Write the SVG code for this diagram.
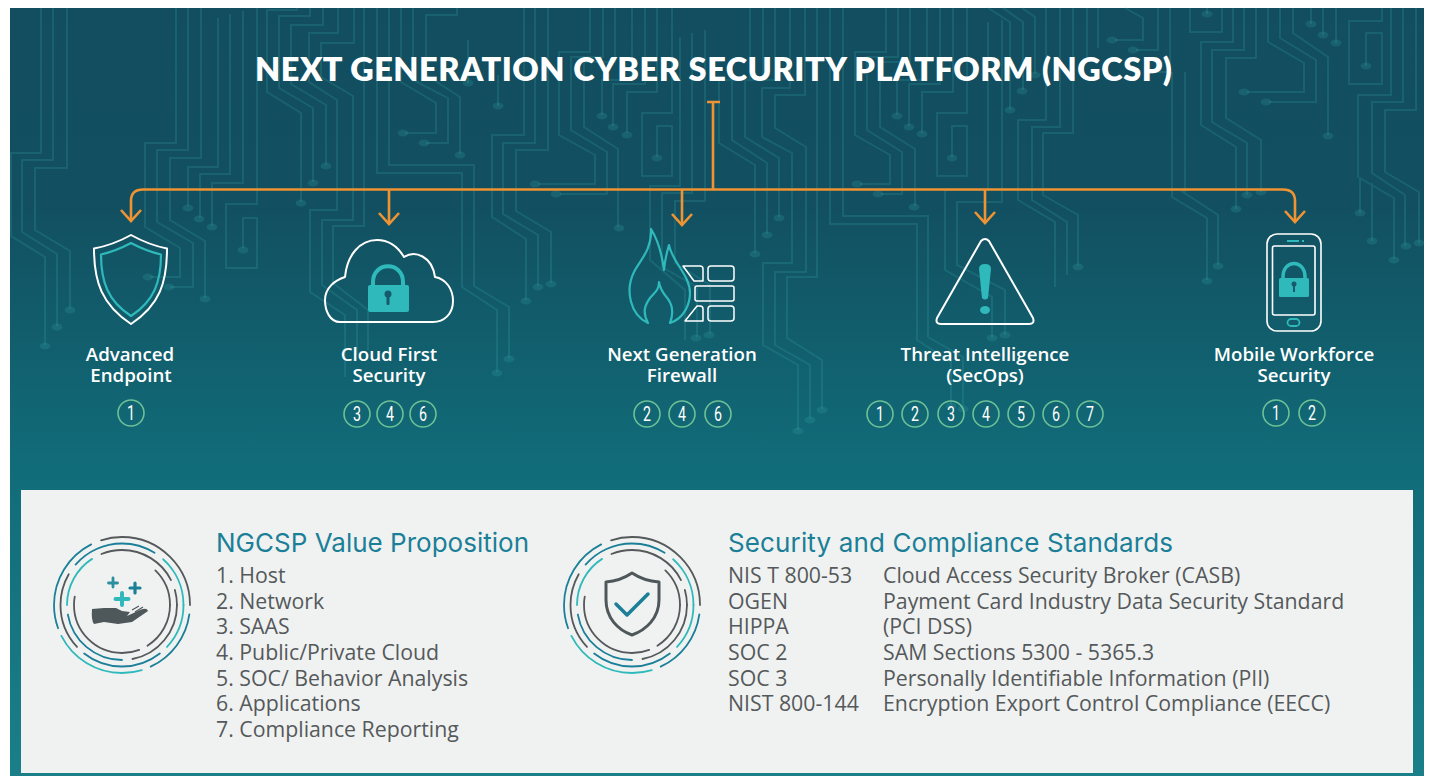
<svg xmlns="http://www.w3.org/2000/svg" xmlns:xlink="http://www.w3.org/1999/xlink" width="1429" height="776" viewBox="0 0 1429 776">
<style>
.tr{fill:none;stroke:#38a8a8;stroke-opacity:.22;stroke-width:2}
.dt{fill:#38a8a8;fill-opacity:.22}
.cn{fill:none;stroke:#f09333;stroke-width:2.6}
.ol{fill:none;stroke:#fff;stroke-width:2;stroke-linejoin:round}
.te{fill:none;stroke:#2fb9bb;stroke-width:2.2;stroke-linejoin:round}
.tf{fill:#2fb9bb}
.lb{font:600 18.7px "Open Sans",sans-serif;fill:#fff;text-anchor:middle}
.nb{fill:none;stroke:#6cc196;stroke-width:1.6}
.nt{font:19.5px "Roboto",sans-serif;fill:#fff;text-anchor:middle}
.hd{font:400 26px "Inter","Lato",sans-serif;fill:#1b7f98}
.bd{font:21.3px "Open Sans",sans-serif;fill:#55595b}
.g{fill:none;stroke:#55595b;stroke-width:1.8;stroke-linecap:round}
.b{fill:none;stroke:#1b7f98;stroke-width:1.8;stroke-linecap:round}
.t{fill:none;stroke:#2fb9bb;stroke-width:1.8;stroke-linecap:round}
</style>
<defs>
<linearGradient id="bg" x1="0" y1="0" x2="0" y2="1"><stop offset="0" stop-color="#124e5f"/><stop offset=".25" stop-color="#124f60"/><stop offset=".6" stop-color="#116c79"/><stop offset="1" stop-color="#1a7f88"/></linearGradient>
<g id="rings">
<circle class="g" r="68" pathLength="360" stroke-dasharray="108 360" stroke-dashoffset="-252"/>
<circle class="b" r="68" pathLength="360" stroke-dasharray="57 360" stroke-dashoffset="-8"/>
<circle class="t" r="68" pathLength="360" stroke-dasharray="80 360" stroke-dashoffset="-73"/>
<circle class="b" r="68" pathLength="360" stroke-dasharray="83 360" stroke-dashoffset="-160"/>
<circle class="b" r="61.5" pathLength="360" stroke-dasharray="81 360" stroke-dashoffset="-221"/>
<circle class="t" r="61.5" pathLength="360" stroke-dasharray="48 360" stroke-dashoffset="-312"/>
<circle class="t" r="61.5" pathLength="360" stroke-dasharray="43 360" stroke-dashoffset="0"/>
<circle class="b" r="61.5" pathLength="360" stroke-dasharray="76 360" stroke-dashoffset="-52"/>
<circle class="g" r="61.5" pathLength="360" stroke-dasharray="73 360" stroke-dashoffset="-137"/>
<circle class="g" r="55" pathLength="360" stroke-dasharray="85 360" stroke-dashoffset="-248"/>
<circle class="g" r="55" pathLength="360" stroke-dasharray="16 360" stroke-dashoffset="-344"/>
<circle class="g" r="55" pathLength="360" stroke-dasharray="79 360" stroke-dashoffset="0"/>
<circle class="b" r="55" pathLength="360" stroke-dasharray="80 360" stroke-dashoffset="-90"/>
<circle class="t" r="55" pathLength="360" stroke-dasharray="57 360" stroke-dashoffset="-180"/>
<circle class="g" r="48" pathLength="360" stroke-dasharray="46 360" stroke-dashoffset="-314"/>
<circle class="g" r="48" pathLength="360" stroke-dasharray="58 360" stroke-dashoffset="0"/>
<circle class="g" r="48" pathLength="360" stroke-dasharray="121 360" stroke-dashoffset="-69"/>
</g>
</defs>
<rect width="1429" height="776" fill="#fff"/>
<rect x="10" y="8" width="1414" height="768" fill="url(#bg)"/>
<g id="circuit-background">
<path class="tr" d="M41,8V153H11V236L45,257V345M53,8V160H22V232L57,254V326M67,8V168H35V230L70,251V309
M176,8V143H145V227L180,248V277H150M188,8V150H157V222L193,243V287H170M201,8V158H170V220L205,241V298
M218,18V167H188V206M230,14V174H200V218M243,11V183H212V226
M257,8V204H226V268H257V218H243V248
M297,8V10H267V92L301,113V202M310,8V16H279V88L313,108V182M323,8V25H291V84L326,105V165
M338,8V33H309V82L337,100V210H310V292L345,315V377M354,8V43H321V77L353,96V220H322V285L357,310V355M364,8V226H333V283L368,310V350
M377,8V173H462V287L497,310V372M389,8V165H474V286L509,307V358
M401,8V82L436,103V133H405M413,8V80L448,98V143H426M457,8V15H426V75L460,97V154
M548,8V150H516V211L551,232V283M535,8V143H503V214L538,235V286M524,8V135H492V217L526,239V300
M468,40V83M498,75V106
M590,8V52H559V135L595,155V184H538M603,8V57H571V130L607,152V194H560M615,8V62H584V127L618,149V227
M645,8V84H613V126M632,8V80H602V115M657,8V92H627V133
M672,8V113H642V176H672V126H657V157
M680,37V186H650V260L685,290V340M692,33V193H662V267L697,287V337M705,30V201H675V263L710,285V334
M750,8V80H719V143L755,165V253M763,8V80H732V140L767,163V234M775,8V80H745V137L779,158V217
M790,8V88H762V137L792,153V263H763V345L798,365V430M805,8V95H775V128L806,147V272H775V345L810,365V419M817,8V277H787V338L822,360V409
M830,8V224H917V340L951,362V405M843,8V216H928V337L963,357V408
M886,8V52H855V135L890,155V184H860M898,8V57H867V130L902,152V194H881M910,8V62H880V127L915,149V206
M940,8V84H909V126M927,8V80H897V115M953,8V92H922V133
M967,8V113H937V176H967V126H952V157
M988,8L1010,22V110M1003,8L1023,22V90M1022,8L1035,17V74
M988,22V190H945V270L992,297V338M1002,20V202H957V265L1005,290V335
M1046,8V120H1018V200L1055,222V287M1060,8V127H1032V200L1067,222V275M1073,8V133H1043V195L1078,215V266
M1087,8V60M1098,8V48M1125,8L1143,18V40H1115M1158,8V50H1136M1170,8V72H1150M1185,72V192H1183L1218,215V265M1172,72V197L1207,218V280
M1190,8V32H1222V8M1207,8V14
M1233,8V42H1201V125L1236,147V209M1244,8V50H1212V122L1247,143V195M1256,8V58H1226V118L1261,140V192
M1268,8V42L1304,63V92H1247M1280,8V38L1316,60V102H1269M1293,8V33L1328,57V135
M1311,8V24M1323,8V35M1336,8V43
M1382,8V21H1349V84H1382V33H1366V66
M1391,8V95H1358V177L1394,198V259M1403,8V102H1372V173L1405,195V246M1416,8V110H1385V172L1419,192V243
M1360,177V213M1372,183V241"/>
<g class="dt">
<ellipse cx="188" cy="208" rx="5.5" ry="3.5"/><ellipse cx="199" cy="219" rx="5.5" ry="3.5"/><ellipse cx="212" cy="227" rx="5.5" ry="3.5"/><ellipse cx="243" cy="250" rx="5.5" ry="3.5"/>
<ellipse cx="148" cy="277" rx="5.5" ry="3.5"/><ellipse cx="169" cy="287" rx="5.5" ry="3.5"/><ellipse cx="205" cy="299" rx="5.5" ry="3.5"/>
<ellipse cx="70" cy="310" rx="5.5" ry="3.5"/><ellipse cx="57" cy="327" rx="5.5" ry="3.5"/><ellipse cx="45" cy="346" rx="5.5" ry="3.5"/>
<ellipse cx="301" cy="203" rx="5.5" ry="3.5"/><ellipse cx="313" cy="183" rx="5.5" ry="3.5"/><ellipse cx="326" cy="166" rx="5.5" ry="3.5"/>
<ellipse cx="403" cy="133" rx="5.5" ry="3.5"/><ellipse cx="424" cy="143" rx="5.5" ry="3.5"/><ellipse cx="460" cy="155" rx="5.5" ry="3.5"/><ellipse cx="468" cy="83" rx="5.5" ry="3.5"/>
<ellipse cx="497" cy="373" rx="5.5" ry="3.5"/><ellipse cx="509" cy="359" rx="5.5" ry="3.5"/><ellipse cx="526" cy="301" rx="5.5" ry="3.5"/><ellipse cx="538" cy="287" rx="5.5" ry="3.5"/><ellipse cx="551" cy="284" rx="5.5" ry="3.5"/>
<ellipse cx="535" cy="184" rx="5.5" ry="3.5"/><ellipse cx="556" cy="194" rx="5.5" ry="3.5"/><ellipse cx="498" cy="106" rx="5.5" ry="3.5"/>
<ellipse cx="602" cy="116" rx="5.5" ry="3.5"/><ellipse cx="613" cy="127" rx="5.5" ry="3.5"/><ellipse cx="627" cy="135" rx="5.5" ry="3.5"/><ellipse cx="657" cy="158" rx="5.5" ry="3.5"/><ellipse cx="619" cy="228" rx="5.5" ry="3.5"/>
<ellipse cx="696" cy="338" rx="5.5" ry="3.5"/><ellipse cx="709" cy="335" rx="5.5" ry="3.5"/><ellipse cx="755" cy="254" rx="5.5" ry="3.5"/><ellipse cx="767" cy="235" rx="5.5" ry="3.5"/><ellipse cx="779" cy="218" rx="5.5" ry="3.5"/>
<ellipse cx="798" cy="431" rx="5.5" ry="3.5"/><ellipse cx="810" cy="420" rx="5.5" ry="3.5"/><ellipse cx="822" cy="410" rx="5.5" ry="3.5"/>
<ellipse cx="857" cy="184" rx="5.5" ry="3.5"/><ellipse cx="878" cy="194" rx="5.5" ry="3.5"/><ellipse cx="914" cy="207" rx="5.5" ry="3.5"/>
<ellipse cx="897" cy="116" rx="5.5" ry="3.5"/><ellipse cx="909" cy="127" rx="5.5" ry="3.5"/><ellipse cx="922" cy="134" rx="5.5" ry="3.5"/><ellipse cx="952" cy="158" rx="5.5" ry="3.5"/>
<ellipse cx="992" cy="338" rx="5.5" ry="3.5"/><ellipse cx="1005" cy="335" rx="5.5" ry="3.5"/><ellipse cx="951" cy="406" rx="5.5" ry="3.5"/><ellipse cx="963" cy="409" rx="5.5" ry="3.5"/>
<ellipse cx="1010" cy="110" rx="5.5" ry="3.5"/><ellipse cx="1022" cy="91" rx="5.5" ry="3.5"/><ellipse cx="1035" cy="75" rx="5.5" ry="3.5"/><ellipse cx="1112" cy="40" rx="5.5" ry="3.5"/><ellipse cx="1133" cy="50" rx="5.5" ry="3.5"/>
<ellipse cx="1078" cy="267" rx="5.5" ry="3.5"/><ellipse cx="1207" cy="281" rx="5.5" ry="3.5"/><ellipse cx="1218" cy="266" rx="5.5" ry="3.5"/><ellipse cx="1207" cy="14" rx="5.5" ry="3.5"/>
<ellipse cx="1236" cy="209" rx="5.5" ry="3.5"/><ellipse cx="1247" cy="195" rx="5.5" ry="3.5"/><ellipse cx="1261" cy="192" rx="5.5" ry="3.5"/>
<ellipse cx="1244" cy="92" rx="5.5" ry="3.5"/><ellipse cx="1266" cy="102" rx="5.5" ry="3.5"/><ellipse cx="1328" cy="136" rx="5.5" ry="3.5"/>
<ellipse cx="1311" cy="24" rx="5.5" ry="3.5"/><ellipse cx="1323" cy="35" rx="5.5" ry="3.5"/><ellipse cx="1336" cy="43" rx="5.5" ry="3.5"/><ellipse cx="1366" cy="66" rx="5.5" ry="3.5"/>
<ellipse cx="1360" cy="213" rx="5.5" ry="3.5"/><ellipse cx="1372" cy="241" rx="5.5" ry="3.5"/><ellipse cx="1394" cy="260" rx="5.5" ry="3.5"/><ellipse cx="1406" cy="246" rx="5.5" ry="3.5"/><ellipse cx="1419" cy="243" rx="5.5" ry="3.5"/>
</g>
</g>
<text id="title" x="255" y="81" font-family="Lato,sans-serif" font-weight="800" font-size="32.5" fill="#fff" textLength="917" lengthAdjust="spacing">NEXT GENERATION CYBER SECURITY PLATFORM (NGCSP)</text>
<g id="connectors">
<path class="cn" d="M707,102H720M713,102V189.500M131,221V201Q131,189.500 143,189.500H1283Q1295,189.500 1295,201V222M389,189.500V224M682,189.500V225M985,189.500V223"/>
<path class="cn" d="M121,210L131,221L141,210M379,213L389,224L399,213M672,214L682,225L692,214M975,212L985,223L995,212M1285,211L1295,222L1305,211"/>
</g>
<g id="node-endpoint">
<path class="ol" d="M131,235Q113,245 94,248.500C94,282 102,305 131,324C160,305 167,282 167,248.500Q149,245 131,235Z"/>
<path class="te" d="M131,243Q116,251 101,254.500C101,282 108,301 131,316C154,301 161,282 161,254.500Q146,251 131,243Z"/>
<text class="lb" x="130" y="361">Advanced</text><text class="lb" x="131" y="382">Endpoint</text>
<circle class="nb" cx="131" cy="413" r="13"/><text class="nt" x="131" y="420" textLength="8" lengthAdjust="spacingAndGlyphs">1</text>
</g>
<g id="node-cloud">
<path class="ol" d="M340,322C330,322 325,311 325,300C325,288 335,280 345,277C347,255 360,240 377,240C389,240 398,247 404,257C415,250 432,256 435,277C446,279 453,289 453,301C453,314 444,322 433,322Z"/>
<path fill="none" stroke="#2fb9bb" stroke-width="4" d="M373,286V282C373,261 403,261 403,282V286"/>
<rect class="tf" x="368" y="285" width="41" height="27" rx="2"/>
<circle cx="388" cy="294" r="3.500" fill="#165b6b"/><rect x="386.500" y="295" width="3" height="10" rx="1" fill="#165b6b"/>
<text class="lb" x="389" y="361">Cloud First</text><text class="lb" x="389" y="382">Security</text>
<circle class="nb" cx="357" cy="414" r="13"/><text class="nt" x="357" y="421" textLength="8" lengthAdjust="spacingAndGlyphs">3</text>
<circle class="nb" cx="390" cy="414" r="13"/><text class="nt" x="390" y="421" textLength="8" lengthAdjust="spacingAndGlyphs">4</text>
<circle class="nb" cx="423" cy="414" r="13"/><text class="nt" x="423" y="421" textLength="8" lengthAdjust="spacingAndGlyphs">6</text>
</g>
<g id="node-firewall">
<path class="te" d="M651,229C652,250 640,260 634,272C625,290 630,315 648,323C642,312 645,305 650,298C655,292 659,290 659,282C660,290 664,294 668,299C673,306 673,315 670,323C685,318 690,303 690,293C690,275 672,262 669,245C667,252 665,258 664,270C662,255 658,240 651,229Z"/>
<g fill="none" stroke="#fff" stroke-width="1.500" stroke-linejoin="round">
<rect x="708" y="266" width="26" height="15" rx="3"/><rect x="695" y="286" width="39" height="15" rx="2"/><rect x="708" y="306" width="26" height="15" rx="3"/>
<path d="M683,266H700Q703,266 703,269V281H694ZM697,306H700Q703,306 703,309V321H685Z"/>
</g>
<text class="lb" x="682" y="361">Next Generation</text><text class="lb" x="682" y="382">Firewall</text>
<circle class="nb" cx="647" cy="414" r="13"/><text class="nt" x="647" y="421" textLength="8" lengthAdjust="spacingAndGlyphs">2</text>
<circle class="nb" cx="682" cy="414" r="13"/><text class="nt" x="682" y="421" textLength="8" lengthAdjust="spacingAndGlyphs">4</text>
<circle class="nb" cx="718" cy="414" r="13"/><text class="nt" x="718" y="421" textLength="8" lengthAdjust="spacingAndGlyphs">6</text>
</g>
<g id="node-threat">
<path class="ol" d="M981,241Q985,237 989,241L1033,318Q1035,324 1029,324H941Q935,324 937,318Z"/>
<path class="tf" d="M979,269Q979,264 985,264Q991,264 991,269L988,298Q985,301 982,298Z"/><ellipse class="tf" cx="985" cy="310" rx="5" ry="4"/>
<text class="lb" x="985" y="361">Threat Intelligence</text><text class="lb" x="985" y="382">(SecOps)</text>
<circle class="nb" cx="880" cy="414" r="13"/><text class="nt" x="880" y="421" textLength="8" lengthAdjust="spacingAndGlyphs">1</text>
<circle class="nb" cx="915" cy="414" r="13"/><text class="nt" x="915" y="421" textLength="8" lengthAdjust="spacingAndGlyphs">2</text>
<circle class="nb" cx="951" cy="414" r="13"/><text class="nt" x="951" y="421" textLength="8" lengthAdjust="spacingAndGlyphs">3</text>
<circle class="nb" cx="986" cy="414" r="13"/><text class="nt" x="986" y="421" textLength="8" lengthAdjust="spacingAndGlyphs">4</text>
<circle class="nb" cx="1021" cy="414" r="13"/><text class="nt" x="1021" y="421" textLength="8" lengthAdjust="spacingAndGlyphs">5</text>
<circle class="nb" cx="1056" cy="414" r="13"/><text class="nt" x="1056" y="421" textLength="8" lengthAdjust="spacingAndGlyphs">6</text>
<circle class="nb" cx="1090" cy="414" r="13"/><text class="nt" x="1090" y="421" textLength="8" lengthAdjust="spacingAndGlyphs">7</text>
</g>
<g id="node-mobile">
<rect x="1267" y="234" width="54" height="97" rx="10" class="ol" style="stroke-width:1.600"/>
<rect x="1272.500" y="246" width="42.500" height="69" rx="2" class="ol" style="stroke-width:1.600"/>
<path d="M1287,241H1299M1302,241H1304" fill="none" stroke="#2fb9bb" stroke-width="1.800"/>
<rect x="1287.500" y="319" width="12" height="7" rx="3.500" fill="none" stroke="#2fb9bb" stroke-width="1.800"/>
<path fill="none" stroke="#2fb9bb" stroke-width="3.500" d="M1283,279V277C1283,259 1305,259 1305,277V279"/>
<rect class="tf" x="1279" y="278" width="30" height="19" rx="1.500"/>
<circle cx="1294" cy="284" r="2.500" fill="#165b6b"/><rect x="1293" y="285" width="2" height="7" fill="#165b6b"/>
<text class="lb" x="1294" y="361">Mobile Workforce</text><text class="lb" x="1294" y="382">Security</text>
<circle class="nb" cx="1276" cy="413" r="13"/><text class="nt" x="1276" y="420" textLength="8" lengthAdjust="spacingAndGlyphs">1</text>
<circle class="nb" cx="1312" cy="413" r="13"/><text class="nt" x="1312" y="420" textLength="8" lengthAdjust="spacingAndGlyphs">2</text>
</g>
<rect id="panel" x="21" y="490" width="1392" height="283" fill="#f0f2f1"/>
<g id="node-value">
<use href="#rings" xlink:href="#rings" x="122" y="605"/>
<path fill="#4e5759" d="M92,609L104,608L116,608L122,611L130,612L127,616L140,610Q147,607 148,611L132,622L118,624L104,622L94,624Q91,620 92,609Z"/>
<path d="M132,610L139,606M135,612L143,607" stroke="#4e5759" stroke-width="1.200" fill="none"/>
<path fill="none" stroke="#2a8f9e" stroke-width="2.800" stroke-linecap="round" d="M113,578V587M108.500,583H117.500"/>
<path fill="none" stroke="#1b7f98" stroke-width="3.200" stroke-linecap="round" d="M135,583V593M130,588H140"/>
<path fill="none" stroke="#2fb9bb" stroke-width="4" stroke-linecap="round" d="M122,593V605M115.500,599H128.500"/>
<text class="hd" x="216" y="552" textLength="313" lengthAdjust="spacing">NGCSP Value Proposition</text>
<text class="bd" x="216" y="583">1. Host</text><text class="bd" x="216" y="609">2. Network</text><text class="bd" x="216" y="634">3. SAAS</text><text class="bd" x="216" y="660">4. Public/Private Cloud</text><text class="bd" x="216" y="686">5. SOC/ Behavior Analysis</text><text class="bd" x="216" y="711">6. Applications</text><text class="bd" x="216" y="737">7. Compliance Reporting</text>
</g>
<g id="node-standards">
<use href="#rings" xlink:href="#rings" x="632" y="605"/>
<path fill="none" stroke="#4e5759" stroke-width="3" stroke-linejoin="round" d="M632,573Q620,581 606,582V600C606,618 618,630 632,635C646,630 659,618 659,600V582Q644,581 632,573Z"/>
<path fill="none" stroke="#1b7f98" stroke-width="3.500" stroke-linecap="round" stroke-linejoin="round" d="M616,604L627,615L648,594"/>
<text class="hd" x="728" y="552" textLength="445" lengthAdjust="spacing">Security and Compliance Standards</text>
<text class="bd" x="728" y="583">NIS T 800-53</text><text class="bd" x="883" y="583">Cloud Access Security Broker (CASB)</text>
<text class="bd" x="728" y="609">OGEN</text><text class="bd" x="883" y="609">Payment Card Industry Data Security Standard</text>
<text class="bd" x="728" y="634">HIPPA</text><text class="bd" x="883" y="634">(PCI DSS)</text>
<text class="bd" x="728" y="660">SOC 2</text><text class="bd" x="883" y="660">SAM Sections 5300 - 5365.3</text>
<text class="bd" x="728" y="686">SOC 3</text><text class="bd" x="883" y="686">Personally Identifiable Information (PII)</text>
<text class="bd" x="728" y="711">NIST 800-144</text><text class="bd" x="883" y="711">Encryption Export Control Compliance (EECC)</text>
</g>
</svg>
